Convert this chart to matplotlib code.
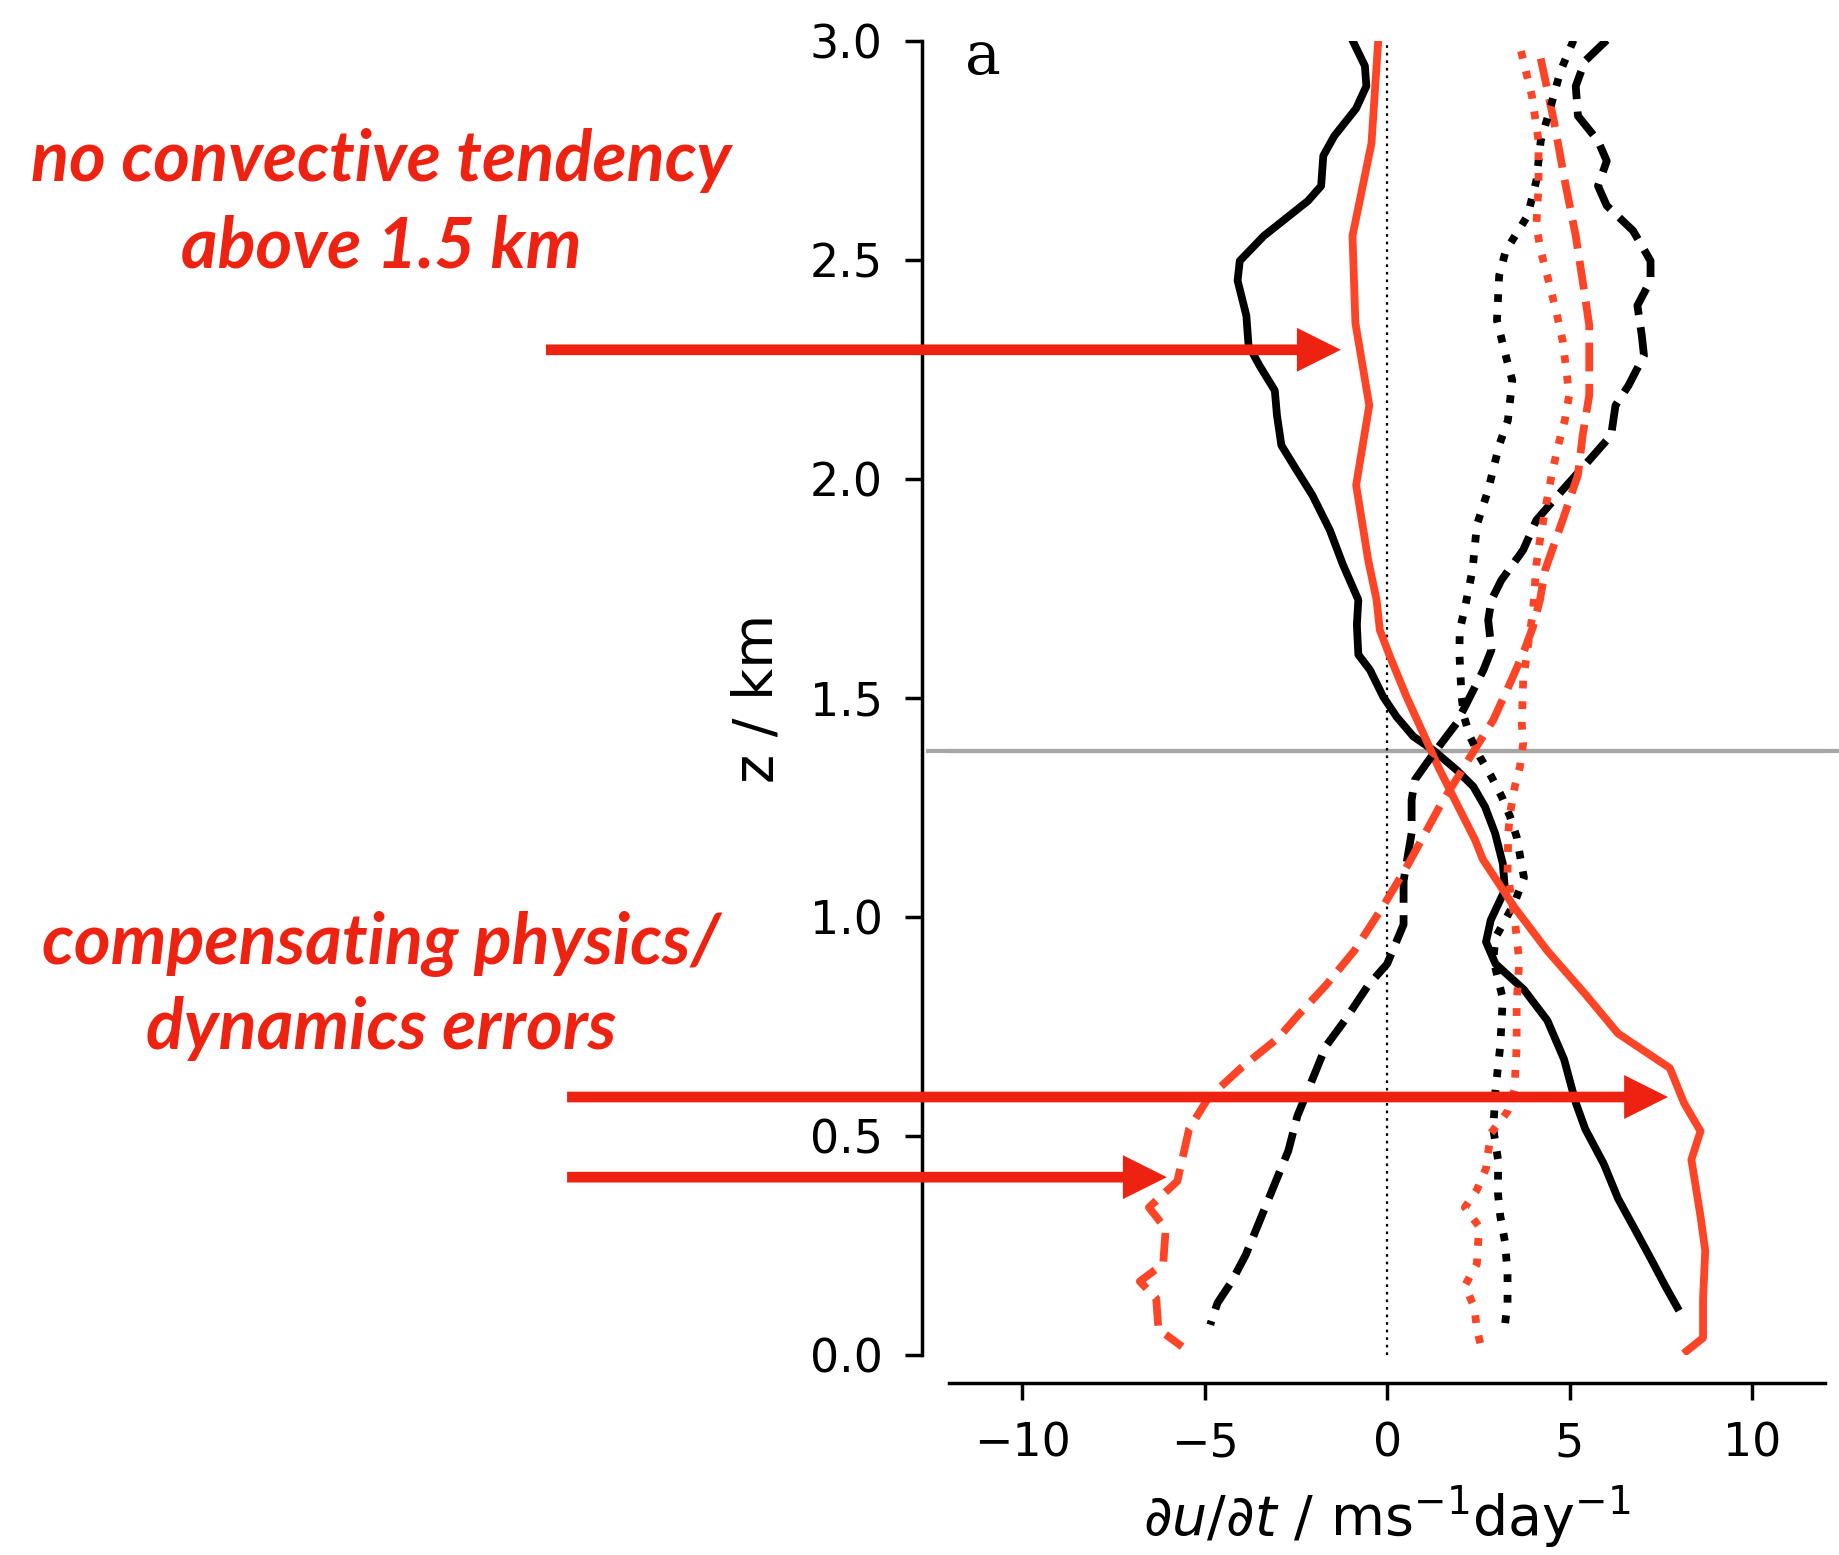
import matplotlib
matplotlib.use("Agg")
import matplotlib.pyplot as plt
import numpy as np

# ---------------- data ----------------
# black solid
z_bs = [3.005, 2.943, 2.897, 2.846, 2.783, 2.738, 2.669, 2.635, 2.555, 2.498, 2.453, 2.373,
        2.305, 2.259, 2.202, 2.145, 2.077, 2.020, 1.963, 1.883, 1.804, 1.724, 1.667, 1.599,
        1.564, 1.503, 1.457, 1.412, 1.381, 1.336, 1.298, 1.252, 1.191, 1.122, 1.062, 0.993,
        0.943, 0.893, 0.834, 0.764, 0.675, 0.576, 0.516, 0.436, 0.357, 0.278, 0.218, 0.158, 0.109]
u_bs = [-0.97, -0.61, -0.57, -0.85, -1.45, -1.75, -1.81, -2.17, -3.38, -4.04, -4.10, -3.86,
        -3.80, -3.50, -3.08, -3.02, -2.90, -2.48, -2.05, -1.57, -1.21, -0.79, -0.83, -0.79,
        -0.47, -0.11, 0.26, 0.72, 1.26, 1.90, 2.36, 2.68, 2.96, 3.17, 3.23, 2.84,
        2.71, 2.97, 3.75, 4.39, 4.85, 5.17, 5.43, 5.94, 6.33, 6.85, 7.24, 7.62, 7.95]

# red solid
z_rs = [2.994, 2.766, 2.555, 2.356, 2.168, 1.986, 1.815, 1.724, 1.655, 1.594, 1.503, 1.419,
        1.343, 1.260, 1.176, 1.132, 1.022, 0.923, 0.824, 0.734, 0.655, 0.575, 0.511, 0.446,
        0.317, 0.238, 0.129, 0.039, 0.009]
u_rs = [-0.25, -0.43, -0.95, -0.87, -0.49, -0.85, -0.52, -0.29, -0.20, 0.08, 0.53, 0.99,
        1.40, 1.90, 2.41, 2.62, 3.49, 4.39, 5.43, 6.33, 7.75, 8.14, 8.59, 8.34,
        8.59, 8.72, 8.66, 8.66, 8.21]

# black dashed
z_bd = [3.002, 2.954, 2.897, 2.829, 2.772, 2.726, 2.669, 2.624, 2.567, 2.498, 2.453, 2.396,
        2.328, 2.282, 2.214, 2.168, 2.100, 2.043, 1.975, 1.906, 1.838, 1.769, 1.724, 1.678,
        1.610, 1.564, 1.511, 1.442, 1.397, 1.351, 1.313, 1.267, 1.191, 1.082, 0.983, 0.893,
        0.844, 0.764, 0.705, 0.625, 0.546, 0.466, 0.387, 0.307, 0.228, 0.168, 0.119, 0.069]
u_bd = [6.02, 5.42, 5.17, 5.23, 5.78, 6.02, 5.78, 6.02, 6.74, 7.22, 7.22, 6.86,
        6.98, 7.04, 6.62, 6.26, 6.14, 5.54, 4.81, 4.09, 3.73, 3.13, 2.86, 2.77,
        2.86, 2.64, 2.32, 1.90, 1.49, 1.08, 0.76, 0.67, 0.67, 0.45, 0.45, 0.00,
        -0.52, -1.16, -1.68, -2.07, -2.46, -2.71, -3.10, -3.49, -3.88, -4.26, -4.65, -4.85]

# red dashed
z_rd = [2.960, 2.818, 2.681, 2.555, 2.419, 2.351, 2.191, 2.100, 2.009, 1.906, 1.792, 1.724,
        1.663, 1.602, 1.534, 1.450, 1.389, 1.328, 1.260, 1.191, 1.112, 1.022, 0.923, 0.844,
        0.774, 0.725, 0.655, 0.586, 0.516, 0.397, 0.337, 0.288, 0.208, 0.168, 0.129, 0.059, 0.019]
u_rd = [4.21, 4.57, 4.87, 5.17, 5.42, 5.54, 5.54, 5.36, 5.23, 4.81, 4.33, 4.19,
        4.00, 3.73, 3.37, 2.91, 2.45, 2.00, 1.49, 1.04, 0.52, -0.13, -0.90, -1.68,
        -2.46, -2.97, -4.01, -4.91, -5.43, -5.75, -6.53, -6.07, -6.14, -6.78, -6.33, -6.27, -5.62]

# black dotted
z_bk = [3.002, 2.931, 2.840, 2.772, 2.681, 2.601, 2.521, 2.464, 2.362, 2.282, 2.225, 2.134,
        2.077, 1.975, 1.895, 1.792, 1.705, 1.655, 1.602, 1.553, 1.503, 1.457, 1.412, 1.366,
        1.320, 1.275, 1.229, 1.183, 1.090, 1.032, 0.953, 0.903, 0.814, 0.705, 0.605, 0.516,
        0.446, 0.367, 0.318, 0.258, 0.188, 0.119, 0.069]
u_bk = [5.11, 4.75, 4.45, 4.21, 4.09, 3.85, 3.25, 3.07, 3.01, 3.25, 3.43, 3.31,
        3.07, 2.77, 2.46, 2.34, 2.13, 1.99, 1.98, 2.01, 2.04, 2.11, 2.27, 2.54,
        2.86, 3.14, 3.37, 3.55, 3.75, 3.49, 2.97, 2.91, 3.17, 3.10, 2.97, 2.91,
        3.04, 3.04, 3.10, 3.23, 3.30, 3.30, 3.23]

# red dotted
z_rk = [2.977, 2.874, 2.772, 2.669, 2.578, 2.521, 2.464, 2.384, 2.316, 2.236, 2.191, 2.134,
        2.077, 2.009, 1.929, 1.872, 1.804, 1.701, 1.594, 1.541, 1.442, 1.397, 1.343, 1.298,
        1.237, 1.191, 1.100, 1.000, 0.900, 0.800, 0.705, 0.605, 0.556, 0.506, 0.426, 0.377,
        0.337, 0.293, 0.208, 0.158, 0.109, 0.059, 0.014]
u_rk = [3.67, 3.97, 4.15, 4.15, 4.09, 4.21, 4.39, 4.63, 4.81, 4.93, 4.99, 4.87,
        4.69, 4.51, 4.33, 4.21, 4.09, 4.00, 3.82, 3.73, 3.69, 3.73, 3.64, 3.50,
        3.37, 3.32, 3.30, 3.49, 3.62, 3.55, 3.55, 3.49, 3.30, 2.84, 2.71, 2.46,
        2.13, 2.52, 2.46, 2.13, 2.39, 2.46, 2.59]

boundary_z = 1.38
x_ticks = [-10, -5, 0, 5, 10]
y_ticks = [0.0, 0.5, 1.0, 1.5, 2.0, 2.5, 3.0]

note_top = ["no convective tendency", "above 1.5 km"]
note_bot = ["compensating physics/", "dynamics errors"]
# arrows: (tail_u, tip_u, z)
arrows = [(-23.06, -1.27, 2.295), (-22.48, 7.70, 0.589), (-22.48, -6.04, 0.406)]

# ---------------- style ----------------
BLACK = "#000000"
RED = "#fb4526"
NOTE = "#ee2211"
plt.rcParams.update({
    "font.family": ["DejaVu Sans"],
    "axes.linewidth": 1.25,
    "xtick.major.width": 1.25, "ytick.major.width": 1.25,
    "xtick.major.size": 6, "ytick.major.size": 6,
    "xtick.major.pad": 8, "ytick.major.pad": 8,
    "xtick.labelsize": 16.5, "ytick.labelsize": 16.5,
    "axes.labelsize": 20,
    "mathtext.fontset": "dejavusans",
})

W, H, DPI = 1839, 1555, 200
fig = plt.figure(figsize=(W / DPI, H / DPI), dpi=DPI)
ax = fig.add_axes([949.4 / W, 200 / H, 875.5 / W, 1314 / H])

LW = 2.8

ax.axhline(boundary_z, color="#a6a6a6", lw=1.5, zorder=1)
ax.plot([-12.6, 13.5], [boundary_z, boundary_z], color="#a6a6a6", lw=1.5, zorder=1, clip_on=False)
ax.axvline(0, color="k", lw=0.8, ls=(0, (1.2, 2.2)), zorder=1)

ax.plot(u_bs, z_bs, color=BLACK, lw=LW, zorder=3)
ax.plot(u_rs, z_rs, color=RED, lw=LW, zorder=3)
ax.plot(u_bd, z_bd, color=BLACK, lw=LW, ls="--", zorder=3)
ax.plot(u_rd, z_rd, color=RED, lw=LW, ls="--", zorder=3)
ax.plot(u_bk, z_bk, color=BLACK, lw=LW, ls=":", zorder=3)
ax.plot(u_rk, z_rk, color=RED, lw=LW, ls=":", zorder=3)

ax.set_xlim(-12, 12)
ax.set_ylim(0, 3)
ax.set_xticks(x_ticks)
ax.set_yticks(y_ticks)
ax.set_xticklabels([("\u2212%d" % -v) if v < 0 else "%d" % v for v in x_ticks])
ax.set_yticklabels(["%.1f" % v for v in y_ticks])
for s in ["top", "right"]:
    ax.spines[s].set_visible(False)
ax.spines["left"].set_position(("outward", 10))
ax.spines["bottom"].set_position(("outward", 10))

ax.set_xlabel(r"$\partial u/\partial t$ / ms$^{-1}$day$^{-1}$", labelpad=6)
ax.set_ylabel("z / km", labelpad=9)

ax.text(0.018, 0.9749, "a", transform=ax.transAxes, family="DejaVu Serif",
        fontsize=21.6, ha="left", va="baseline")

for tail, tip, z in arrows:
    ax.annotate("", xy=(tip, z), xytext=(tail, z), xycoords="data",
                annotation_clip=False,
                arrowprops=dict(width=3.85, headwidth=15.8, headlength=15.8,
                                shrink=0, facecolor=NOTE, edgecolor="none", lw=0),
                zorder=5)

# red notes, calibrated to the reference width
renderer = fig.canvas.get_renderer()
fam = ["Lato", "DejaVu Sans"]
probe = fig.text(0, 0, note_top[0], fontsize=20, family=fam, weight="bold", style="italic")
wpx = probe.get_window_extent(renderer).width
probe.remove()
fs = 20 * 699.0 / wpx
xc = 381 / W
for txt, ypx in zip(note_top + note_bot, [181, 267, 964, 1049]):
    fig.text(xc, 1 - ypx / H, txt, fontsize=fs, family=fam, weight="bold",
             style="italic", color=NOTE, ha="center", va="baseline")

fig.savefig("out.png", dpi=DPI)
